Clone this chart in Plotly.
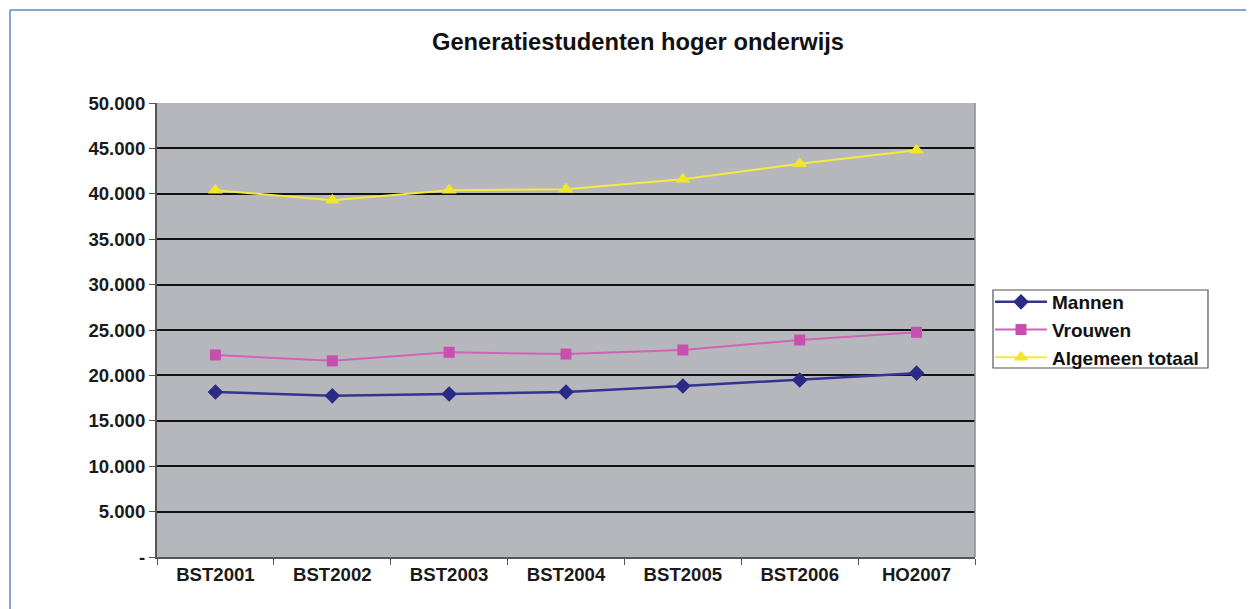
import plotly.graph_objects as go

categories = ["BST2001", "BST2002", "BST2003", "BST2004", "BST2005", "BST2006", "HO2007"]
mannen = [18170, 17750, 17950, 18170, 18830, 19500, 20250]
vrouwen = [22250, 21600, 22550, 22350, 22800, 23900, 24750]
totaal = [40400, 39300, 40400, 40500, 41600, 43300, 44800]
y_tickvals = [0, 5000, 10000, 15000, 20000, 25000, 30000, 35000, 40000, 45000, 50000]
y_ticktext = ["-", "5.000", "10.000", "15.000", "20.000", "25.000", "30.000", "35.000", "40.000", "45.000", "50.000"]

# page body has an 8px margin; work in page pixels and convert
OFF = 8
W, H = 1254 - OFF, 609 - OFF
L, R, T, B = 157 - OFF, 975 - OFF, 103 - OFF, 557 - OFF
pw, ph = R - L, B - T

def px_x(x):
    return (x - OFF - L) / pw

def px_y(y):
    return (B - (y - OFF)) / ph

FONT = "Liberation Sans, Arial, sans-serif"

fig = go.Figure()
fig.add_trace(go.Scatter(
    x=categories, y=mannen, name="Mannen", mode="lines+markers",
    line=dict(color="#343490", width=2.5),
    marker=dict(symbol="diamond", size=12, color="#2b2b85"),
))
fig.add_trace(go.Scatter(
    x=categories, y=vrouwen, name="Vrouwen", mode="lines+markers",
    line=dict(color="#d062b8", width=2),
    marker=dict(symbol="square", size=11, color="#c84fae"),
))
fig.add_trace(go.Scatter(
    x=categories, y=totaal, name="Algemeen totaal", mode="lines+markers",
    line=dict(color="#f2ea40", width=2),
    marker=dict(symbol="triangle-up", size=13, color="#f0e62a"),
))

fig.update_layout(
    width=W, height=H,
    margin=dict(l=L, r=W - R, t=T, b=H - B, pad=0),
    paper_bgcolor="white",
    plot_bgcolor="#b5b7bc",
    font=dict(family=FONT, size=18, color="#1a1a1a"),
    title=dict(
        text="<b>Generatiestudenten hoger onderwijs</b>",
        x=(638 - OFF) / W, xanchor="center",
        y=1 - (42 - OFF) / H, yanchor="middle",
        font=dict(family=FONT, size=23.7, color="#111111"),
    ),
    showlegend=True,
    legend=dict(
        x=px_x(990), y=px_y(283), xanchor="left", yanchor="top",
        bgcolor="rgba(0,0,0,0)", borderwidth=0,
        font=dict(family=FONT, size=19, color="#111111", weight="bold"),
        tracegroupgap=0, itemwidth=52,
    ),
    xaxis=dict(
        type="category",
        showgrid=False,
        showline=True, linecolor="#555555", linewidth=2, mirror=False,
        ticks="outside", tickson="boundaries", ticklen=6, tickcolor="#555555",
        tickfont=dict(family=FONT, size=18.6, color="#1a1a1a", weight="bold"),
        range=[-0.5, 6.5],
        fixedrange=True,
    ),
    yaxis=dict(
        range=[0, 50000],
        tickvals=y_tickvals, ticktext=y_ticktext,
        showgrid=True, gridcolor="#111111", gridwidth=2,
        showline=True, linecolor="#555555", linewidth=2,
        ticks="outside", ticklen=6, tickcolor="#555555",
        tickfont=dict(family=FONT, size=18.6, color="#1a1a1a", weight="bold"),
        zeroline=False,
        fixedrange=True,
    ),
    shapes=[
        dict(type="line", xref="paper", yref="paper", x0=1, x1=1, y0=0, y1=1,
             line=dict(color="#8a8c90", width=1.5)),
        # legend box
        dict(type="rect", xref="paper", yref="paper",
             x0=px_x(993), x1=px_x(1208), y0=px_y(290), y1=px_y(368),
             fillcolor="white", line=dict(color="#555555", width=1.2), layer="below"),
        # outer frame (blue)
        dict(type="line", xref="paper", yref="paper",
             x0=px_x(10), x1=px_x(1260), y0=px_y(10), y1=px_y(10),
             line=dict(color="#5b86c4", width=1.5)),
        dict(type="line", xref="paper", yref="paper",
             x0=px_x(10), x1=px_x(10), y0=px_y(10), y1=px_y(615),
             line=dict(color="#5b86c4", width=1.5)),
    ],
)

fig.write_html("out.html")
